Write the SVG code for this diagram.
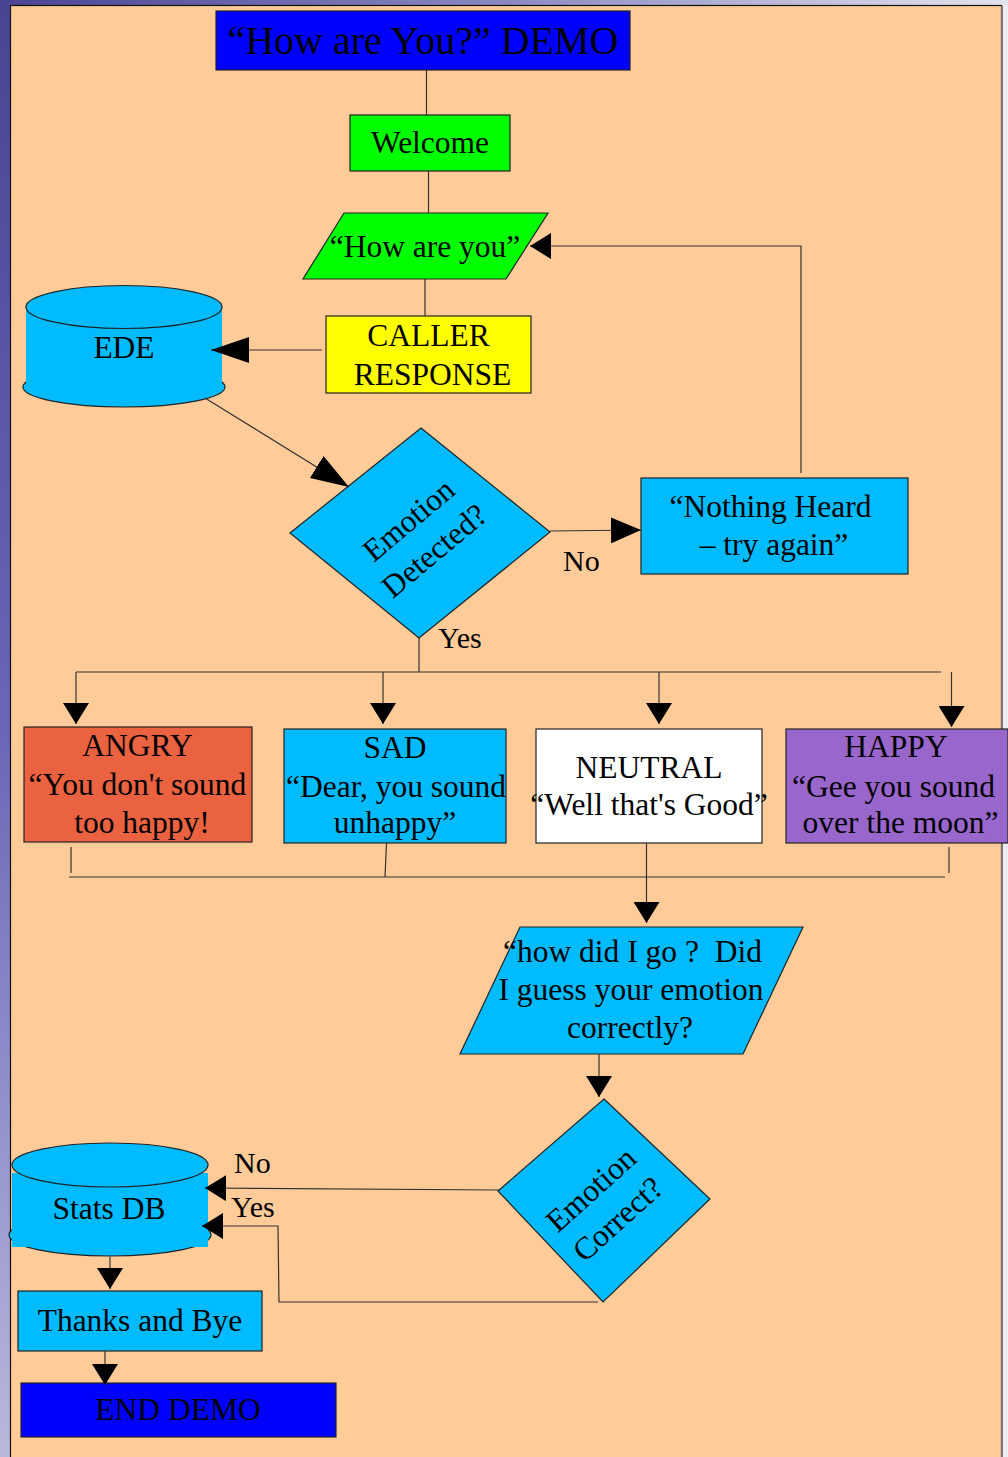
<svg xmlns="http://www.w3.org/2000/svg" width="1008" height="1457" viewBox="0 0 1008 1457">
<style>
text{font-family:"Liberation Serif","Times New Roman",serif;font-size:31.5px;fill:#000;text-anchor:middle}
.t{font-size:40px}
.lbl{text-anchor:start;font-size:30px}
.box{stroke:#222;stroke-width:1.2}
.sky{fill:#00BBFF}
.ln{fill:none;stroke:#333;stroke-width:1.2}
</style>
<defs>
<linearGradient id="gl" x1="0" y1="0" x2="0" y2="1">
<stop offset="0" stop-color="#4a4494"/>
<stop offset="0.5" stop-color="#6a66b8"/>
<stop offset="1" stop-color="#b8b8dc"/>
</linearGradient>
<linearGradient id="gt" x1="0" y1="0" x2="1" y2="0">
<stop offset="0" stop-color="#4a4494"/>
<stop offset="0.5" stop-color="#8a88c0"/>
<stop offset="1" stop-color="#e4e4ee"/>
</linearGradient>
<marker id="aS" viewBox="0 0 21 26" markerWidth="21" markerHeight="26" refX="21" refY="13" orient="auto" markerUnits="userSpaceOnUse"><path d="M0,0 L21,13 L0,26 z" fill="#000"/></marker>
<marker id="aM" viewBox="0 0 30 26" markerWidth="30" markerHeight="26" refX="30" refY="13" orient="auto" markerUnits="userSpaceOnUse"><path d="M0,0 L30,13 L0,26 z" fill="#000"/></marker>
<marker id="aL" viewBox="0 0 38 26" markerWidth="38" markerHeight="26" refX="38" refY="13" orient="auto" markerUnits="userSpaceOnUse"><path d="M0,0 L38,13 L0,26 z" fill="#000"/></marker>
</defs>

<!-- background -->
<rect x="0" y="0" width="1008" height="1457" fill="#ececf2"/>
<rect x="0" y="0" width="11" height="1457" fill="url(#gl)"/>
<rect x="0" y="0" width="1008" height="5" fill="url(#gt)"/>
<rect x="10.5" y="5.5" width="991" height="1460" fill="#FFCC99" stroke="#111" stroke-width="1.2"/>
<line x1="1002" y1="6" x2="1002" y2="1457" stroke="#777" stroke-width="2"/>

<g id="title">
<rect class="box" x="216" y="11" width="414" height="59" fill="#0000FF"/>
<text class="t" x="423" y="53.5">“How are You?” DEMO</text>
</g>

<g id="welcome">
<rect class="box" x="350" y="115" width="160" height="56" fill="#00FF00"/>
<text x="430" y="153">Welcome</text>
</g>

<g id="how-are-you">
<polygon class="box" points="344,213 548,213 506,279 303,279" fill="#00FF00"/>
<text x="425" y="257">“How are you”</text>
</g>

<g id="caller-response">
<rect class="box" x="326" y="316" width="205" height="77" fill="#FFFF00"/>
<text x="428.5" y="346">CALLER</text>
<text x="432.5" y="385">RESPONSE</text>
</g>

<g id="ede">
<ellipse class="box sky" cx="124" cy="387" rx="101" ry="20"/>
<rect class="sky" x="26" y="307" width="196" height="75"/>
<ellipse class="box sky" cx="124" cy="307" rx="98" ry="21.5"/>
<text x="124" y="358">EDE</text>
</g>

<g id="emotion-detected">
<polygon class="box sky" points="421,428 550,532 419,638 290,533"/>
<g transform="translate(421,535) rotate(-40)">
<text x="0" y="-9">Emotion</text>
<text x="0" y="31">Detected?</text>
</g>
</g>

<g id="nothing-heard">
<rect class="box sky" x="641" y="478" width="267" height="96"/>
<text x="770.5" y="517">“Nothing Heard</text>
<text x="774" y="555">– try again”</text>
</g>

<g id="angry">
<rect class="box" x="24" y="727" width="228" height="115" fill="#EA6240"/>
<text x="137.5" y="756">ANGRY</text>
<text x="137.5" y="795">“You don't sound</text>
<text x="142" y="833">too happy!</text>
</g>

<g id="sad">
<rect class="box sky" x="284" y="729" width="222" height="114"/>
<text x="395" y="758">SAD</text>
<text x="396" y="797">“Dear, you sound</text>
<text x="395" y="833">unhappy”</text>
</g>

<g id="neutral">
<rect class="box" x="536" y="729" width="226" height="114" fill="#FFFFFF"/>
<text x="649" y="778">NEUTRAL</text>
<text x="649" y="815">“Well that's Good”</text>
</g>

<g id="happy">
<rect class="box" x="786" y="729" width="222" height="114" fill="#9966CC"/>
<text x="896" y="757">HAPPY</text>
<text x="893.5" y="797">“Gee you sound</text>
<text x="900.5" y="833">over the moon”</text>
</g>

<g id="how-did-i-go">
<polygon class="box sky" points="520,927 803,927 743,1054 460,1054"/>
<text x="632.5" y="962" xml:space="preserve">“how did I go ?  Did</text>
<text x="631" y="1000">I guess your emotion</text>
<text x="630" y="1038">correctly?</text>
</g>

<g id="emotion-correct">
<polygon class="box sky" points="604,1099 710,1199 603,1302 498,1191"/>
<g transform="translate(604,1204) rotate(-42)">
<text x="0" y="-9">Emotion</text>
<text x="0" y="31">Correct?</text>
</g>
</g>

<g id="stats-db">
<ellipse class="box sky" cx="110" cy="1235" rx="101" ry="21"/>
<rect class="sky" x="12" y="1173" width="196" height="74"/>
<ellipse class="box sky" cx="110" cy="1165" rx="98" ry="22"/>
<text x="109" y="1219">Stats DB</text>
</g>

<g id="thanks">
<rect class="box sky" x="18" y="1291" width="244" height="60"/>
<text x="140" y="1331">Thanks and Bye</text>
</g>

<g id="end-demo">
<rect class="box" x="21" y="1383" width="315" height="54" fill="#0000FF"/>
<text x="178" y="1420">END DEMO</text>
</g>

<!-- connectors -->
<g id="connectors">
<line class="ln" x1="426.5" y1="70" x2="426.5" y2="115"/>
<line class="ln" x1="428.5" y1="171" x2="428.5" y2="213"/>
<line class="ln" x1="425" y1="279" x2="425" y2="316"/>
<line class="ln" x1="322" y1="350" x2="211" y2="350" marker-end="url(#aL)"/>
<line class="ln" x1="205" y1="398" x2="349" y2="487" marker-end="url(#aL)"/>
<line class="ln" x1="550" y1="531" x2="641" y2="530" marker-end="url(#aM)"/>
<polyline class="ln" points="801,473 801,246 530,246" marker-end="url(#aS)"/>
<line class="ln" x1="419" y1="638" x2="419" y2="672"/>
<line class="ln" x1="76" y1="672" x2="941" y2="672"/>
<line class="ln" x1="76" y1="672" x2="76" y2="724" marker-end="url(#aS)"/>
<line class="ln" x1="383" y1="672" x2="383" y2="724" marker-end="url(#aS)"/>
<line class="ln" x1="659" y1="672" x2="659" y2="724" marker-end="url(#aS)"/>
<line class="ln" x1="951.5" y1="672" x2="951.5" y2="727" marker-end="url(#aS)"/>
<line class="ln" x1="71" y1="847" x2="71" y2="873"/>
<line class="ln" x1="386.5" y1="843" x2="385" y2="877"/>
<line class="ln" x1="949" y1="847" x2="949" y2="873"/>
<line class="ln" x1="69" y1="877" x2="945" y2="877"/>
<line class="ln" x1="646.5" y1="843" x2="646.5" y2="923" marker-end="url(#aS)"/>
<line class="ln" x1="599" y1="1054" x2="599" y2="1097" marker-end="url(#aS)"/>
<line class="ln" x1="500" y1="1190" x2="205" y2="1188" marker-end="url(#aS)"/>
<polyline class="ln" points="598,1302 279,1302 278,1226 202,1226" marker-end="url(#aS)"/>
<line class="ln" x1="110" y1="1257" x2="110" y2="1289" marker-end="url(#aS)"/>
<line class="ln" x1="105" y1="1351" x2="105" y2="1385" marker-end="url(#aS)"/>
<text class="lbl" x="563" y="571">No</text>
<text class="lbl" x="438" y="648">Yes</text>
<text class="lbl" x="234" y="1173">No</text>
<text class="lbl" x="231" y="1217">Yes</text>
</g>
</svg>
